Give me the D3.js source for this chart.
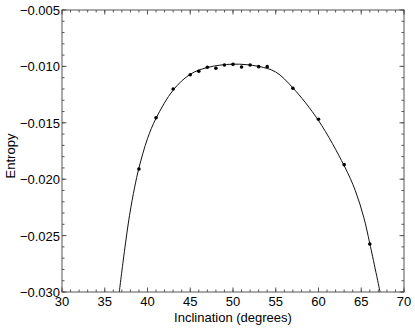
<!DOCTYPE html>
<html>
<head>
<meta charset="utf-8">
<script src="https://cdn.jsdelivr.net/npm/d3@7"></script>
<style>
  body { margin: 0; background: #fff; }
  text { font-family: "Liberation Sans", Arial, Helvetica, sans-serif; fill: #000; }
</style>
</head>
<body>
<div id="chart"></div>
<script>
// measured points
var inclination = [39, 41, 43, 45, 46, 47, 48, 49, 50, 51, 52, 53, 54, 57, 60, 63, 66];
var entropy = [-0.0191, -0.01455, -0.0120, -0.01074, -0.01043, -0.01008, -0.01017, -0.00988,
  -0.00982, -0.01005, -0.00988, -0.01002, -0.01002, -0.01194, -0.01469, -0.01871, -0.02574];

// fitted curve
var fitX = [36.7, 37.3, 37.9, 38.5, 39, 40, 41, 43, 45, 47, 50, 53, 55, 57, 60, 63, 64.3, 65.3, 66, 67.2];
var fitY = [-0.030, -0.0264, -0.0232, -0.0207, -0.0190, -0.0164, -0.0146, -0.0121, -0.0107, -0.0101,
  -0.0098, -0.0100, -0.0105, -0.0119, -0.0148, -0.0188, -0.0210, -0.0234, -0.0257, -0.030];

var xTicks = [30, 35, 40, 45, 50, 55, 60, 65, 70];
var yTicks = [-0.030, -0.025, -0.020, -0.015, -0.010, -0.005];

var svgWidth = 415, svgHeight = 328;
var margin = { top: 10, right: 11, bottom: 36, left: 62 };
var width = svgWidth - margin.left - margin.right;
var height = svgHeight - margin.top - margin.bottom;

var svg = d3.select("#chart").append("svg")
  .attr("width", svgWidth)
  .attr("height", svgHeight);

var chartGroup = svg.append("g")
  .attr("transform", `translate(${margin.left}, ${margin.top})`);

var xScale = d3.scaleLinear().domain([30, 70]).range([0, width]);
var yScale = d3.scaleLinear().domain([-0.030, -0.005]).range([height, 0]);

var xMinor = d3.range(30, 71, 1);
var yMinor = d3.range(-30, -4, 1).map(d => d / 1000);

// clip for the curve
chartGroup.append("clipPath").attr("id", "clip")
  .append("rect").attr("width", width).attr("height", height);

// frame
chartGroup.append("rect")
  .attr("width", width).attr("height", height)
  .attr("fill", "none").attr("stroke", "#555").attr("stroke-width", 1);

var tickColor = "#555";

// minor + major ticks, inward on all four sides
function addTicks(values, len, horizontal) {
  values.forEach(function (v) {
    if (horizontal) {
      var x = xScale(v);
      chartGroup.append("line").attr("x1", x).attr("x2", x).attr("y1", height).attr("y2", height - len).attr("stroke", tickColor);
      chartGroup.append("line").attr("x1", x).attr("x2", x).attr("y1", 0).attr("y2", len).attr("stroke", tickColor);
    } else {
      var y = yScale(v);
      chartGroup.append("line").attr("x1", 0).attr("x2", len).attr("y1", y).attr("y2", y).attr("stroke", tickColor);
      chartGroup.append("line").attr("x1", width).attr("x2", width - len).attr("y1", y).attr("y2", y).attr("stroke", tickColor);
    }
  });
}
addTicks(xMinor, 2.5, true);
addTicks(xTicks, 4.5, true);
addTicks(yMinor, 2.5, false);
addTicks(yTicks, 4.5, false);

// tick labels
var fmtY = d3.format(".3f");
chartGroup.selectAll(".xlab").data(xTicks).enter().append("text")
  .attr("x", d => xScale(d))
  .attr("y", height + 14)
  .attr("text-anchor", "middle")
  .style("font-size", "13px")
  .text(d => d);

chartGroup.selectAll(".ylab").data(yTicks).enter().append("text")
  .attr("x", -2)
  .attr("y", d => yScale(d) + 5)
  .attr("text-anchor", "end")
  .style("font-size", "13px")
  .text(d => fmtY(d));

// fitted curve
var line = d3.line()
  .x((d, i) => xScale(fitX[i]))
  .y(d => yScale(d))
  .curve(d3.curveCatmullRom.alpha(0.5));

chartGroup.append("path")
  .datum(fitY)
  .attr("clip-path", "url(#clip)")
  .attr("fill", "none")
  .attr("stroke", "#111")
  .attr("stroke-width", 1)
  .attr("d", line);

// data points
chartGroup.selectAll("circle").data(entropy).enter().append("circle")
  .attr("cx", (d, i) => xScale(inclination[i]))
  .attr("cy", d => yScale(d))
  .attr("r", 1.8)
  .attr("fill", "#000");

// axis titles
chartGroup.append("text")
  .attr("x", width / 2)
  .attr("y", height + 30)
  .attr("text-anchor", "middle")
  .style("font-size", "13px")
  .text("Inclination (degrees)");

chartGroup.append("text")
  .attr("transform", `translate(${-margin.left + 15}, ${height / 2 + 5}) rotate(-90)`)
  .attr("text-anchor", "middle")
  .style("font-size", "13px")
  .text("Entropy");
</script>
</body>
</html>
